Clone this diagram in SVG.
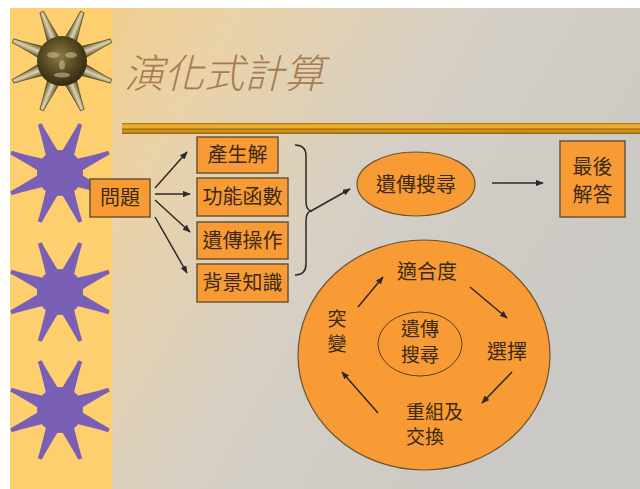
<svg xmlns="http://www.w3.org/2000/svg" width="640" height="489" viewBox="0 0 640 489">
  <style>
    .box { fill: #F99B34; stroke: #6A5638; stroke-width: 1.5; }
    .oval { fill: #F99B34; stroke: #6E5230; stroke-width: 1.2; }
    .lbl { font-family: "Noto Sans CJK TC", "Noto Sans CJK SC", sans-serif; font-size: 20px; fill: #3A2A14; text-anchor: middle; }
    .lbl-s { font-family: "Noto Sans CJK TC", "Noto Sans CJK SC", sans-serif; font-size: 19px; fill: #3A2A14; text-anchor: start; }
    .two { font-size: 19px; }
    .title { font-family: "Noto Sans CJK TC", "Noto Sans CJK SC", sans-serif; font-size: 40px; font-style: italic; font-weight: 300; fill: #A67C52; }
    .conn { fill: none; stroke: #2A2A2A; stroke-width: 1.5; }
  </style>
  <defs>
    <linearGradient id="bgGrad" x1="0" y1="0" x2="1" y2="0.45">
      <stop offset="0" stop-color="#F7CB7C"/>
      <stop offset="0.3" stop-color="#EAD2A8"/>
      <stop offset="0.62" stop-color="#D5CFC5"/>
      <stop offset="1" stop-color="#CBC9C5"/>
    </linearGradient>
    <linearGradient id="barGrad" x1="0" y1="0" x2="0" y2="1">
      <stop offset="0" stop-color="#9A6A10"/>
      <stop offset="0.15" stop-color="#E8A828"/>
      <stop offset="0.4" stop-color="#F0B030"/>
      <stop offset="0.55" stop-color="#A87010"/>
      <stop offset="0.75" stop-color="#D89A20"/>
      <stop offset="1" stop-color="#8A5E0C"/>
    </linearGradient>
    <radialGradient id="goldBody" cx="0.45" cy="0.4" r="0.6">
      <stop offset="0" stop-color="#8C7C4A"/>
      <stop offset="0.6" stop-color="#54461F"/>
      <stop offset="1" stop-color="#332A12"/>
    </radialGradient>
    <linearGradient id="goldSpike" x1="0" y1="0" x2="1" y2="0">
      <stop offset="0" stop-color="#3E3216"/>
      <stop offset="0.5" stop-color="#DCD4AE"/>
      <stop offset="1" stop-color="#3E3216"/>
    </linearGradient>
    <path id="spike" d="M-7,-17 C-5,-30 -3,-42 -2,-53 L2,-53 C3,-42 5,-30 7,-17 Z"/>
    <g id="purpleStar" fill="#7A5FB6">
      <circle r="23"/>
      <use href="#spike" transform="rotate(22.5)"/>
      <use href="#spike" transform="rotate(67.5)"/>
      <use href="#spike" transform="rotate(112.5)"/>
      <use href="#spike" transform="rotate(157.5)"/>
      <use href="#spike" transform="rotate(202.5)"/>
      <use href="#spike" transform="rotate(247.5)"/>
      <use href="#spike" transform="rotate(292.5)"/>
      <use href="#spike" transform="rotate(337.5)"/>
    </g>
    <marker id="arrow" viewBox="0 0 10 8" refX="9" refY="4" markerWidth="8" markerHeight="6.4" markerUnits="userSpaceOnUse" orient="auto">
      <path d="M0,0 L10,4 L0,8 Z" fill="#2A2A2A"/>
    </marker>
  </defs>

  <!-- page background -->
  <rect width="640" height="489" fill="#FFFFFF"/>
  <rect x="10" y="8" width="630" height="481" fill="url(#bgGrad)"/>
  <rect x="10" y="8" width="102" height="481" fill="#FECF6E"/>

  <!-- side ornaments -->
  <g id="gold-star" transform="translate(62,61)">
    <g fill="url(#goldSpike)" stroke="#3A3016" stroke-width="0.6">
      <use href="#spike" transform="rotate(22.5)"/>
      <use href="#spike" transform="rotate(67.5)"/>
      <use href="#spike" transform="rotate(112.5)"/>
      <use href="#spike" transform="rotate(157.5)"/>
      <use href="#spike" transform="rotate(202.5)"/>
      <use href="#spike" transform="rotate(247.5)"/>
      <use href="#spike" transform="rotate(292.5)"/>
      <use href="#spike" transform="rotate(337.5)"/>
    </g>
    <circle r="25" fill="url(#goldBody)"/>
    <g fill="#C9BC8E" opacity="0.6">
      <ellipse cx="-9" cy="-6" rx="6" ry="3"/>
      <ellipse cx="9" cy="-6" rx="6" ry="3"/>
      <ellipse cx="0" cy="4" rx="3" ry="5"/>
      <ellipse cx="0" cy="14" rx="8" ry="2.5"/>
    </g>
  </g>
  <use id="star-1" href="#purpleStar" x="60" y="173"/>
  <use id="star-2" href="#purpleStar" x="60" y="292"/>
  <use id="star-3" href="#purpleStar" x="60" y="410"/>

  <!-- heading and rule -->
  <text id="title" class="title" x="124" y="88">演化式計算</text>
  <rect id="rule" x="122" y="123" width="518" height="11" fill="url(#barGrad)"/>

  <!-- connectors -->
  <g id="connectors">
    <line class="conn" x1="155" y1="188" x2="187" y2="152" marker-end="url(#arrow)"/>
    <line class="conn" x1="155" y1="194" x2="190" y2="194" marker-end="url(#arrow)"/>
    <line class="conn" x1="155" y1="200" x2="190" y2="232" marker-end="url(#arrow)"/>
    <line class="conn" x1="155" y1="217" x2="187" y2="273" marker-end="url(#arrow)"/>
    <path class="conn" d="M295,145 Q306,145 306,156 L306,201 Q306,211 312,211 Q306,211 306,221 L306,264 Q306,275 295,275"/>
    <line class="conn" x1="311" y1="211" x2="350" y2="189" marker-end="url(#arrow)"/>
    <line class="conn" x1="492" y1="183" x2="543" y2="183" marker-end="url(#arrow)"/>
  </g>

  <!-- nodes -->
  <g id="problem">
    <rect class="box" x="90" y="179" width="60" height="38"/>
    <text class="lbl" x="120" y="205">問題</text>
  </g>
  <g id="generate">
    <rect class="box" x="197" y="137" width="81" height="36"/>
    <text class="lbl" x="237.5" y="162">產生解</text>
  </g>
  <g id="fitness-function">
    <rect class="box" x="197" y="178" width="91" height="38"/>
    <text class="lbl" x="242.5" y="204">功能函數</text>
  </g>
  <g id="genetic-ops">
    <rect class="box" x="197" y="222" width="91" height="37"/>
    <text class="lbl" x="242.5" y="248">遺傳操作</text>
  </g>
  <g id="background-knowledge">
    <rect class="box" x="197" y="264" width="91" height="38"/>
    <text class="lbl" x="242.5" y="290">背景知識</text>
  </g>
  <g id="genetic-search">
    <ellipse class="oval" cx="416" cy="184" rx="59" ry="32"/>
    <text class="lbl" x="416" y="192">遺傳搜尋</text>
  </g>
  <g id="final-answer">
    <rect class="box" x="560" y="141" width="65" height="76"/>
    <text class="lbl" x="592.5" y="174">最後</text>
    <text class="lbl" x="592.5" y="202">解答</text>
  </g>

  <!-- evolution cycle -->
  <g id="cycle">
    <ellipse class="oval" cx="424" cy="355" rx="126" ry="115"/>
    <ellipse cx="420" cy="344" rx="42" ry="32" fill="none" stroke="#5A4020" stroke-width="1"/>
    <text class="lbl two" x="420" y="336">遺傳</text>
    <text class="lbl two" x="420" y="362">搜尋</text>
    <text class="lbl" x="427" y="279">適合度</text>
    <text class="lbl" x="507" y="359">選擇</text>
    <text class="lbl-s" x="406" y="419">重組及</text>
    <text class="lbl-s" x="406" y="444">交換</text>
    <text class="lbl two" x="337" y="326">突</text>
    <text class="lbl two" x="337" y="351">變</text>
  </g>
  <g id="cycle-connectors">
    <line class="conn" x1="358" y1="307" x2="383" y2="277" marker-end="url(#arrow)"/>
    <line class="conn" x1="470" y1="287" x2="507" y2="318" marker-end="url(#arrow)"/>
    <line class="conn" x1="512" y1="372" x2="482" y2="403" marker-end="url(#arrow)"/>
    <line class="conn" x1="378" y1="413" x2="342" y2="372" marker-end="url(#arrow)"/>
  </g>
</svg>
